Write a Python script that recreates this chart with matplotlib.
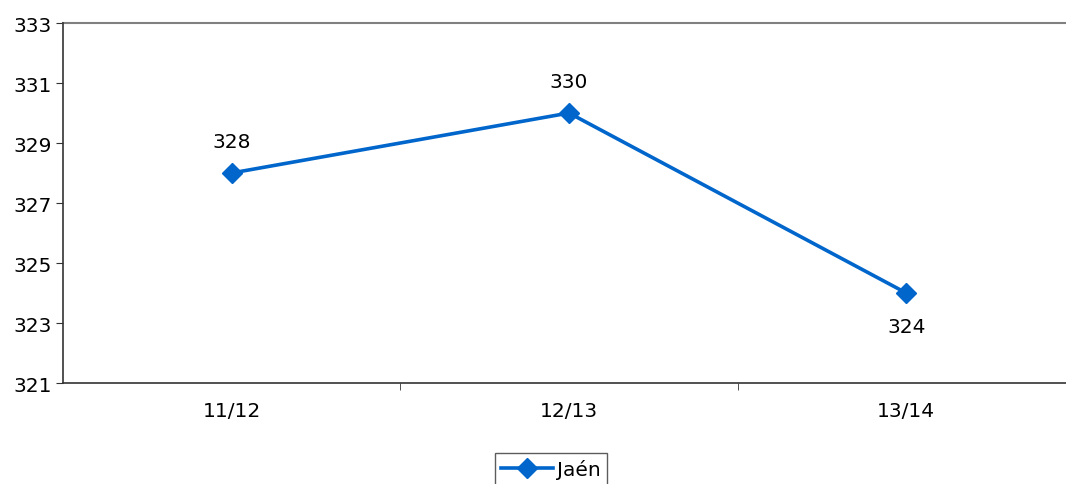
import matplotlib
matplotlib.use("Agg")
import matplotlib.pyplot as plt

# data
seasons = ["11/12", "12/13", "13/14"]
jaen = [328, 330, 324]

plt.rcParams['font.family'] = ['DejaVu Sans']

fig = plt.figure(figsize=(10.66, 4.85), dpi=100)
ax = fig.add_axes([0.0591, 0.2082, 1.0084 - 0.0591, 0.9505 - 0.2082])

x = range(len(seasons))
ax.plot(x, jaen, color="#0066CC", linewidth=2.6, marker="D", markersize=10, label="Jaén")

# value labels
for i, v in enumerate(jaen):
    off = -24 if i == len(jaen) - 1 else 23
    ax.annotate(str(v), (i, v), xytext=(0, off), textcoords="offset points",
                ha="center", va="center", fontsize=14.5)

ax.set_xlim(-0.5, 2.5)
ax.set_ylim(321, 333)
ax.set_yticks(range(321, 334, 2))
ax.tick_params(axis="y", labelsize=14.5, length=5, color="#333333", direction="out", pad=3)
ax.set_xticks(list(x))
ax.set_xticklabels(seasons, fontsize=14.5)
ax.tick_params(axis="x", length=0, pad=13)
ax.set_xticks([0.5, 1.5], minor=True)
ax.tick_params(axis="x", which="minor", length=5, color="#333333", direction="out")

ax.spines["right"].set_visible(False)
ax.spines["top"].set_visible(False)
ax.spines["left"].set_color("#333333")
ax.spines["bottom"].set_color("#333333")
ax.spines["left"].set_linewidth(1.2)
ax.spines["bottom"].set_linewidth(1.2)
ax.axhline(333, color="#808080", linewidth=1.5, clip_on=False)

leg = fig.legend(loc="upper center", bbox_to_anchor=(0.517, 0.084), fontsize=14.5,
                 frameon=True, fancybox=False, edgecolor="#333333",
                 handlelength=2.6, borderpad=0.3, handletextpad=0.2)
leg.get_frame().set_linewidth(1.0)

plt.savefig("out.png", dpi=100)
